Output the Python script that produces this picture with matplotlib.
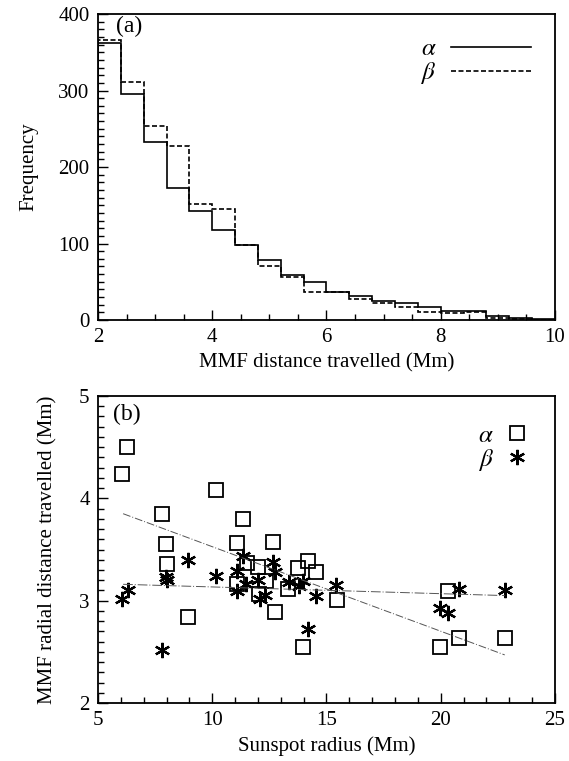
import numpy as np
import matplotlib
matplotlib.use("Agg")
import matplotlib.pyplot as plt
from matplotlib.ticker import MultipleLocator

plt.rcParams['font.family'] = ['Liberation Serif', 'DejaVu Serif']
plt.rcParams['mathtext.fontset'] = 'stix'

# (a) histogram of MMF distance travelled, bins of 0.4 Mm from 2 to 10
bin_edges = [2.0, 2.4, 2.8, 3.2, 3.6, 4.0, 4.4, 4.8, 5.2, 5.6, 6.0,
             6.4, 6.8, 7.2, 7.6, 8.0, 8.4, 8.8, 9.2, 9.6, 10.0]
freq_alpha = [362, 296, 233, 173, 142, 118, 98, 78, 59, 50,
              37, 32, 25, 22, 17, 12, 12, 5, 3, 1]
freq_beta = [366, 311, 254, 228, 152, 145, 98, 70, 56, 36,
             37, 28, 22, 17, 11, 9, 11, 3, 1, 0]

# (b) sunspot radius vs MMF radial distance travelled
radius_alpha = [6.28, 6.06, 10.16, 7.82, 11.33, 7.98, 11.07, 12.67, 8.03, 11.50,
                11.99, 13.77, 14.18, 14.54, 11.07, 12.35, 12.06, 13.33, 15.45, 8.92,
                12.75, 13.96, 20.33, 19.97, 20.80, 22.81]
dist_alpha = [4.50, 4.24, 4.08, 3.85, 3.80, 3.55, 3.56, 3.57, 3.36, 3.37,
              3.33, 3.32, 3.39, 3.28, 3.16, 3.19, 3.07, 3.11, 3.01, 2.84,
              2.89, 2.55, 3.09, 2.55, 2.64, 2.64]
radius_beta = [6.06, 6.30, 7.82, 7.98, 8.03, 8.92, 10.16, 11.07, 11.07, 11.36,
               11.48, 12.02, 12.09, 12.31, 12.64, 12.75, 13.37, 13.81, 13.96, 14.18,
               14.54, 15.42, 20.82, 19.97, 20.33, 22.81]
dist_beta = [3.02, 3.10, 2.52, 3.23, 3.20, 3.40, 3.24, 3.29, 3.09, 3.44,
             3.16, 3.20, 3.02, 3.06, 3.38, 3.28, 3.18, 3.14, 3.19, 2.72,
             3.05, 3.15, 3.11, 2.93, 2.88, 3.10]

# fitted trend lines (end points)
fit_x = [6.1, 22.8]
fit_alpha = [3.85, 2.47]
fit_beta = [3.16, 3.05]

fig = plt.figure(figsize=(5.69, 7.61), dpi=100)
ax1 = fig.add_axes([0.1722, 0.5795, 0.8032, 0.4021])
ax2 = fig.add_axes([0.1722, 0.0762, 0.8032, 0.4034])

fs = 15

# ---- panel (a)
ax1.stairs(freq_alpha, bin_edges, color='black', lw=1.2, label=r'$\alpha$')
ax1.stairs(freq_beta, bin_edges, color='black', lw=1.2, ls=(0, (3, 1.5)), label=r'$\beta$')
ax1.set_xlim(2, 10)
ax1.set_ylim(0, 400)
ax1.set_xticks([2, 4, 6, 8, 10])
ax1.set_yticks([0, 100, 200, 300, 400])
ax1.xaxis.set_minor_locator(MultipleLocator(0.5))
ax1.yaxis.set_minor_locator(MultipleLocator(10))
ax1.set_xlabel('MMF distance travelled (Mm)', fontsize=fs)
ax1.set_ylabel('Frequency', fontsize=fs)
ax1.yaxis.set_label_coords(-0.13, 0.5)
ax1.text(0.04, 0.995, '(a)', transform=ax1.transAxes, fontsize=17, va='top', ha='left')
ax1.legend(loc='upper right', bbox_to_anchor=(0.97, 0.955), frameon=False, markerfirst=False,
           fontsize=18, handlelength=3.2, handletextpad=0.6, labelspacing=0.0, borderaxespad=0)

# ---- panel (b)
ax2.plot(radius_alpha, dist_alpha, ls='none', marker='s', ms=10, mfc='none', mec='black', mew=1.3,
         label=r'$\alpha$')
ax2.plot(radius_beta, dist_beta, ls='none', marker=(6, 2, 0), ms=11, mec='black', mew=1.6,
         label=r'$\beta$')
ax2.plot(fit_x, fit_alpha, color='#555555', lw=0.7, ls=(0, (8, 2, 1, 2)))
ax2.plot(fit_x, fit_beta, color='#555555', lw=0.7, ls=(0, (10, 2, 1, 2)))
ax2.set_xlim(5, 25)
ax2.set_ylim(2, 5)
ax2.set_xticks([5, 10, 15, 20, 25])
ax2.set_yticks([2, 3, 4, 5])
ax2.xaxis.set_minor_locator(MultipleLocator(1))
ax2.yaxis.set_minor_locator(MultipleLocator(0.1))
ax2.set_xlabel('Sunspot radius (Mm)', fontsize=fs)
ax2.set_ylabel('MMF radial distance travelled (Mm)', fontsize=fs)
ax2.yaxis.set_label_coords(-0.088, 0.5)
ax2.text(0.033, 0.975, '(b)', transform=ax2.transAxes, fontsize=17, va='top', ha='left')
ax2.legend(loc='upper right', bbox_to_anchor=(0.965, 0.94), frameon=False, markerfirst=False,
           fontsize=18, handlelength=1.0, handletextpad=0.4, labelspacing=0.0, borderaxespad=0)

for ax in (ax1, ax2):
    ax.tick_params(which='both', direction='in', top=False, right=False, labelsize=fs, pad=6)
    ax.tick_params(which='major', length=7, width=1)
    ax.tick_params(which='minor', length=4, width=1)
    for s in ax.spines.values():
        s.set_linewidth(1.3)

fig.savefig('out.png', dpi=100)
